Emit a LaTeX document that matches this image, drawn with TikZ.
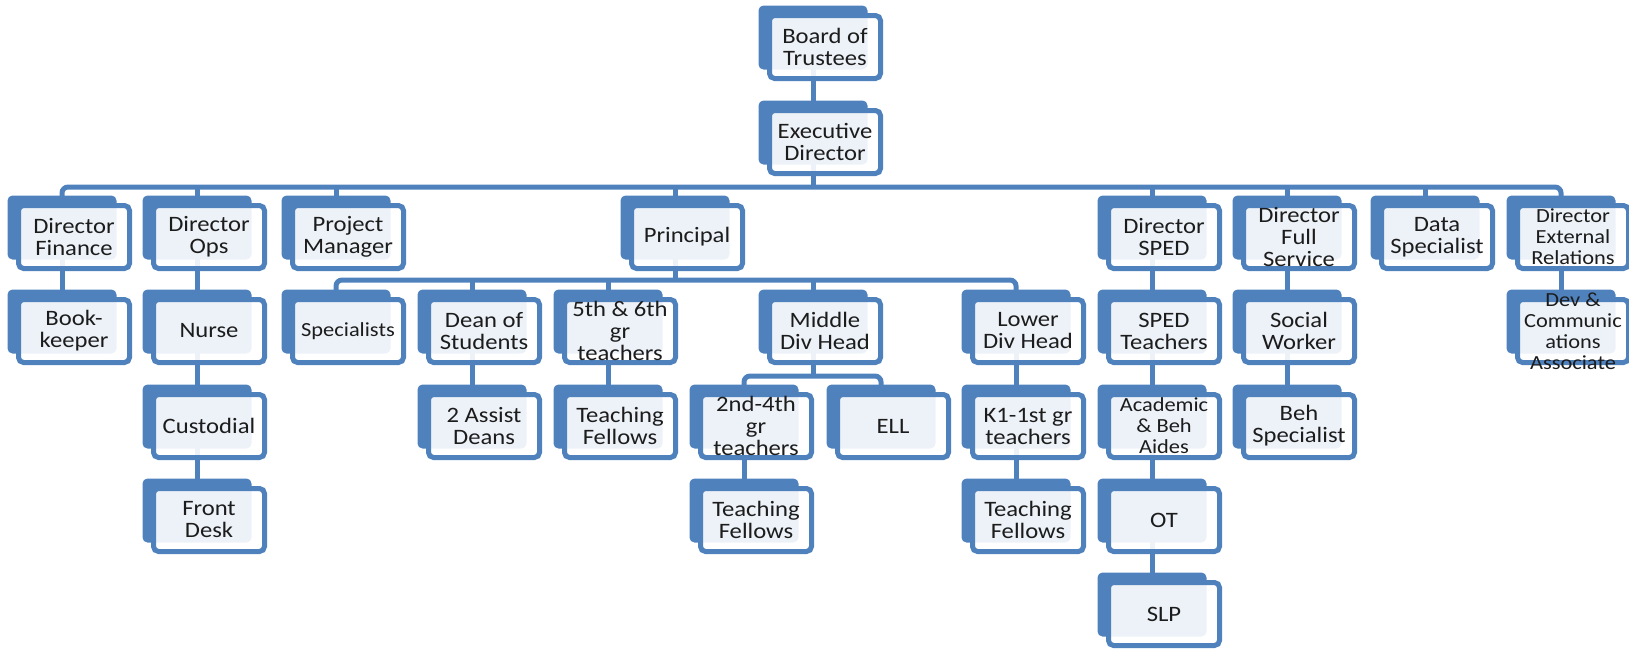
\documentclass[tikz,border=0pt]{standalone}
\usepackage{fontspec}
\setmainfont{Carlito}[FakeStretch=1.12]
\usetikzlibrary{backgrounds}
\definecolor{boxblue}{HTML}{4F81BD}
\definecolor{textdark}{HTML}{1C1C1C}

\begin{document}
\begin{tikzpicture}[x=0.5pt, y=-0.5pt,
    card/.style={draw=boxblue, line width=2.5pt, fill=white, fill opacity=0.9, text opacity=1,
      rounded corners=2.5pt, minimum width=55.5pt, minimum height=31.5pt, inner sep=0pt,
      align=center, text=textdark, font=\fontsize{11}{11}\selectfont},
    small/.style={font=\fontsize{10}{10.5}\selectfont},
    link/.style={draw=boxblue, line width=2.5pt},
    bus/.style={link, rounded corners=3pt}
  ]
\useasboundingbox (0,0) rectangle (1629,650);

% Top of the chart
\node[card] (board) at (825,47) {Board of\\Trustees};
\node[card] (exec) at (825,142) {Executive\\Director};

% Row under the executive director
\node[card] (fin) at (74,237) {Director\\Finance};
\node[card] (ops) at (209,237) {Director\\Ops};
\node[card] (pm) at (348,237) {Project\\Manager};
\node[card] (principal) at (687,237) {Principal};
\node[card] (sped) at (1164,237) {Director\\SPED};
\node[card] (full) at (1299,237) {Director\\Full\\Service};
\node[card] (data) at (1437,237) {Data\\Specialist};
\node[card, small] (ext) at (1573,237) {Director\\External\\Relations};

% Second row
\node[card] (book) at (74,331) {Book-\\keeper};
\node[card] (nurse) at (209,331) {Nurse};
\node[card, small] (spec) at (348,331) {Specialists};
\node[card] (dean) at (484,331) {Dean of\\Students};
\node[card] (grfive) at (620,331) {5th \& 6th\\gr\\teachers};
\node[card] (middle) at (825,331) {Middle\\Div Head};
\node[card] (lower) at (1028,331) {Lower\\Div Head};
\node[card] (spedteach) at (1164,331) {SPED\\Teachers};
\node[card] (social) at (1299,331) {Social\\Worker};
\node[card, label={[small, align=center, text=textdark]center:Dev \&\\Communic\\ations\\Associate}] (devcomm) at (1573,331) {};

% Third row
\node[card] (custodial) at (209,426) {Custodial};
\node[card] (assist) at (484,426) {2 Assist\\Deans};
\node[card] (fellowsfive) at (620,426) {Teaching\\Fellows};
\node[card] (grtwo) at (756,426) {2nd-4th\\gr\\teachers};
\node[card] (ell) at (893,426) {ELL};
\node[card] (kone) at (1028,426) {K1-1st gr\\teachers};
\node[card, small] (aides) at (1164,426) {Academic\\\& Beh\\Aides};
\node[card] (beh) at (1299,426) {Beh\\Specialist};

% Fourth and fifth rows
\node[card] (frontdesk) at (209,520) {Front\\Desk};
\node[card] (fellowstwo) at (756,520) {Teaching\\Fellows};
\node[card] (fellowsk) at (1028,520) {Teaching\\Fellows};
\node[card] (ot) at (1164,520) {OT};
\node[card] (slp) at (1164,614) {SLP};

% bus heights
\coordinate (mainbus) at (0,187);
\coordinate (prinbus) at (0,280);
\coordinate (midbus) at (0,376);

\begin{scope}[on background layer]
  % connectors
  \draw[bus] ([xshift=-6pt]fin.center) |- ([xshift=-6pt]ext.center |- mainbus) -- ([xshift=-6pt]ext.center);
  \foreach \n in {exec,ops,pm,principal,sped,full,data}
    \draw[link] ([xshift=-6pt]\n.center) -- ([xshift=-6pt]\n.center |- mainbus);

  \draw[bus] ([xshift=-6pt]spec.center) |- ([xshift=-6pt]lower.center |- prinbus) -- ([xshift=-6pt]lower.center);
  \foreach \n in {principal,dean,grfive,middle}
    \draw[link] ([xshift=-6pt]\n.center) -- ([xshift=-6pt]\n.center |- prinbus);

  \draw[bus] ([xshift=-6pt]grtwo.center) |- ([xshift=-6pt]ell.center |- midbus) -- ([xshift=-6pt]ell.center);
  \draw[link] ([xshift=-6pt]middle.center) -- ([xshift=-6pt]middle.center |- midbus);

  \foreach \a/\b in {board/exec, fin/book, ops/nurse, nurse/custodial, custodial/frontdesk,
      dean/assist, grfive/fellowsfive, grtwo/fellowstwo, lower/kone, kone/fellowsk,
      sped/spedteach, spedteach/aides, aides/ot, ot/slp, full/social, social/beh, ext/devcomm}
    \draw[link] ([xshift=-6pt]\a.center) -- ([xshift=-6pt]\b.center);

  % blue tab behind every card
  \foreach \n in {board,exec,fin,ops,pm,principal,sped,full,data,ext,
      book,nurse,spec,dean,grfive,middle,lower,spedteach,social,devcomm,
      custodial,assist,fellowsfive,grtwo,ell,kone,aides,beh,
      frontdesk,fellowstwo,fellowsk,ot,slp}
    \fill[boxblue, rounded corners=2.5pt] ([shift={(-4.25pt,3.75pt)}]\n.north west)
      rectangle ([shift={(-7.75pt,5.75pt)}]\n.south east);
\end{scope}
\end{tikzpicture}
\end{document}
